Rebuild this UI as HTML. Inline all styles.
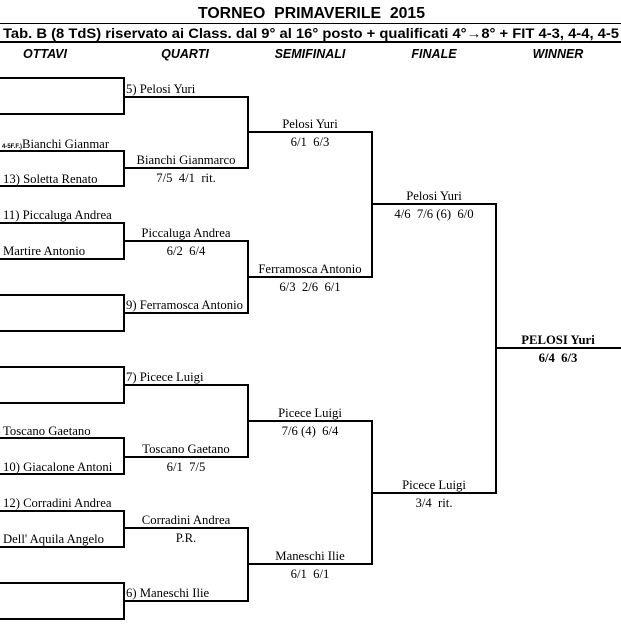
<!DOCTYPE html>
<html><head><meta charset="utf-8"><style>
html,body{margin:0;padding:0;background:#fff;width:621px;height:637px;overflow:hidden}
svg{display:block}
text{white-space:pre}
.s{font-family:"Liberation Serif",serif;font-size:12.7px;fill:#000}
.h{font-family:"Liberation Sans",sans-serif;font-weight:bold;fill:#000}
</style></head><body>
<svg width="621" height="637" viewBox="0 0 621 637" xmlns="http://www.w3.org/2000/svg" xml:space="preserve">
<text class="h" x="198" y="18" font-size="16" textLength="227" lengthAdjust="spacingAndGlyphs">TORNEO  PRIMAVERILE  2015</text>
<line x1="0" y1="23.5" x2="621" y2="23.5" stroke="#000" stroke-width="1"/>
<text class="h" x="3" y="38" font-size="13.5" textLength="616" lengthAdjust="spacingAndGlyphs">Tab. B (8 TdS) riservato ai Class. dal 9° al 16° posto + qualificati 4°→8° + FIT 4-3, 4-4, 4-5</text>
<line x1="0" y1="42" x2="621" y2="42" stroke="#000" stroke-width="2"/>
<g class="h" font-size="12.5" font-style="italic" text-anchor="middle">
<text x="45" y="58">OTTAVI</text><text x="185" y="58">QUARTI</text><text x="310" y="58">SEMIFINALI</text><text x="434" y="58">FINALE</text><text x="558" y="58">WINNER</text>
</g>
<g fill="none" stroke="#000" stroke-width="2">
<path d="M0 78H124V114H0"/>
<path d="M0 151H124V186H0"/>
<path d="M0 223H124V259H0"/>
<path d="M0 295H124V331H0"/>
<path d="M0 367H124V403H0"/>
<path d="M0 438H124V474H0"/>
<path d="M0 511H124V547H0"/>
<path d="M0 583H124V619H0"/>
<path d="M124 97H248V168H124"/>
<path d="M124 241H248V313H124"/>
<path d="M124 385H248V457H124"/>
<path d="M124 528H248V601H124"/>
<path d="M248 132H372V277H248"/>
<path d="M248 421H372V564H248"/>
<path d="M372 204H496V493H372"/>
<path d="M496 348H621"/>
</g>
<g class="s">
<text x="2" y="148"><tspan font-family="Liberation Sans" font-size="6" font-weight="bold">4-5F.F.)</tspan>Bianchi Gianmar</text>
<text x="3" y="183">13) Soletta Renato</text>
<text x="3" y="219">11) Piccaluga Andrea</text>
<text x="3" y="255">Martire Antonio</text>
<text x="3" y="435">Toscano Gaetano</text>
<text x="3" y="471">10) Giacalone Antoni</text>
<text x="3" y="507">12) Corradini Andrea</text>
<text x="3" y="543">Dell' Aquila Angelo</text>
<text x="126" y="93">5) Pelosi Yuri</text>
<text x="126" y="309">9) Ferramosca Antonio</text>
<text x="126" y="381">7) Picece Luigi</text>
<text x="126" y="597">6) Maneschi Ilie</text>
</g>
<g class="s" text-anchor="middle">
<text x="186" y="164">Bianchi Gianmarco</text><text x="186" y="182">7/5  4/1  rit.</text>
<text x="186" y="237">Piccaluga Andrea</text><text x="186" y="255">6/2  6/4</text>
<text x="186" y="453">Toscano Gaetano</text><text x="186" y="471">6/1  7/5</text>
<text x="186" y="524">Corradini Andrea</text><text x="186" y="542">P.R.</text>
<text x="310" y="128">Pelosi Yuri</text><text x="310" y="146">6/1  6/3</text>
<text x="310" y="273">Ferramosca Antonio</text><text x="310" y="291">6/3  2/6  6/1</text>
<text x="310" y="417">Picece Luigi</text><text x="310" y="435">7/6 (4)  6/4</text>
<text x="310" y="560">Maneschi Ilie</text><text x="310" y="578">6/1  6/1</text>
<text x="434" y="200">Pelosi Yuri</text><text x="434" y="218">4/6  7/6 (6)  6/0</text>
<text x="434" y="489">Picece Luigi</text><text x="434" y="507">3/4  rit.</text>
<text x="558" y="344" font-weight="bold">PELOSI Yuri</text><text x="558" y="362" font-weight="bold">6/4  6/3</text>
</g>
</svg>
</body></html>
